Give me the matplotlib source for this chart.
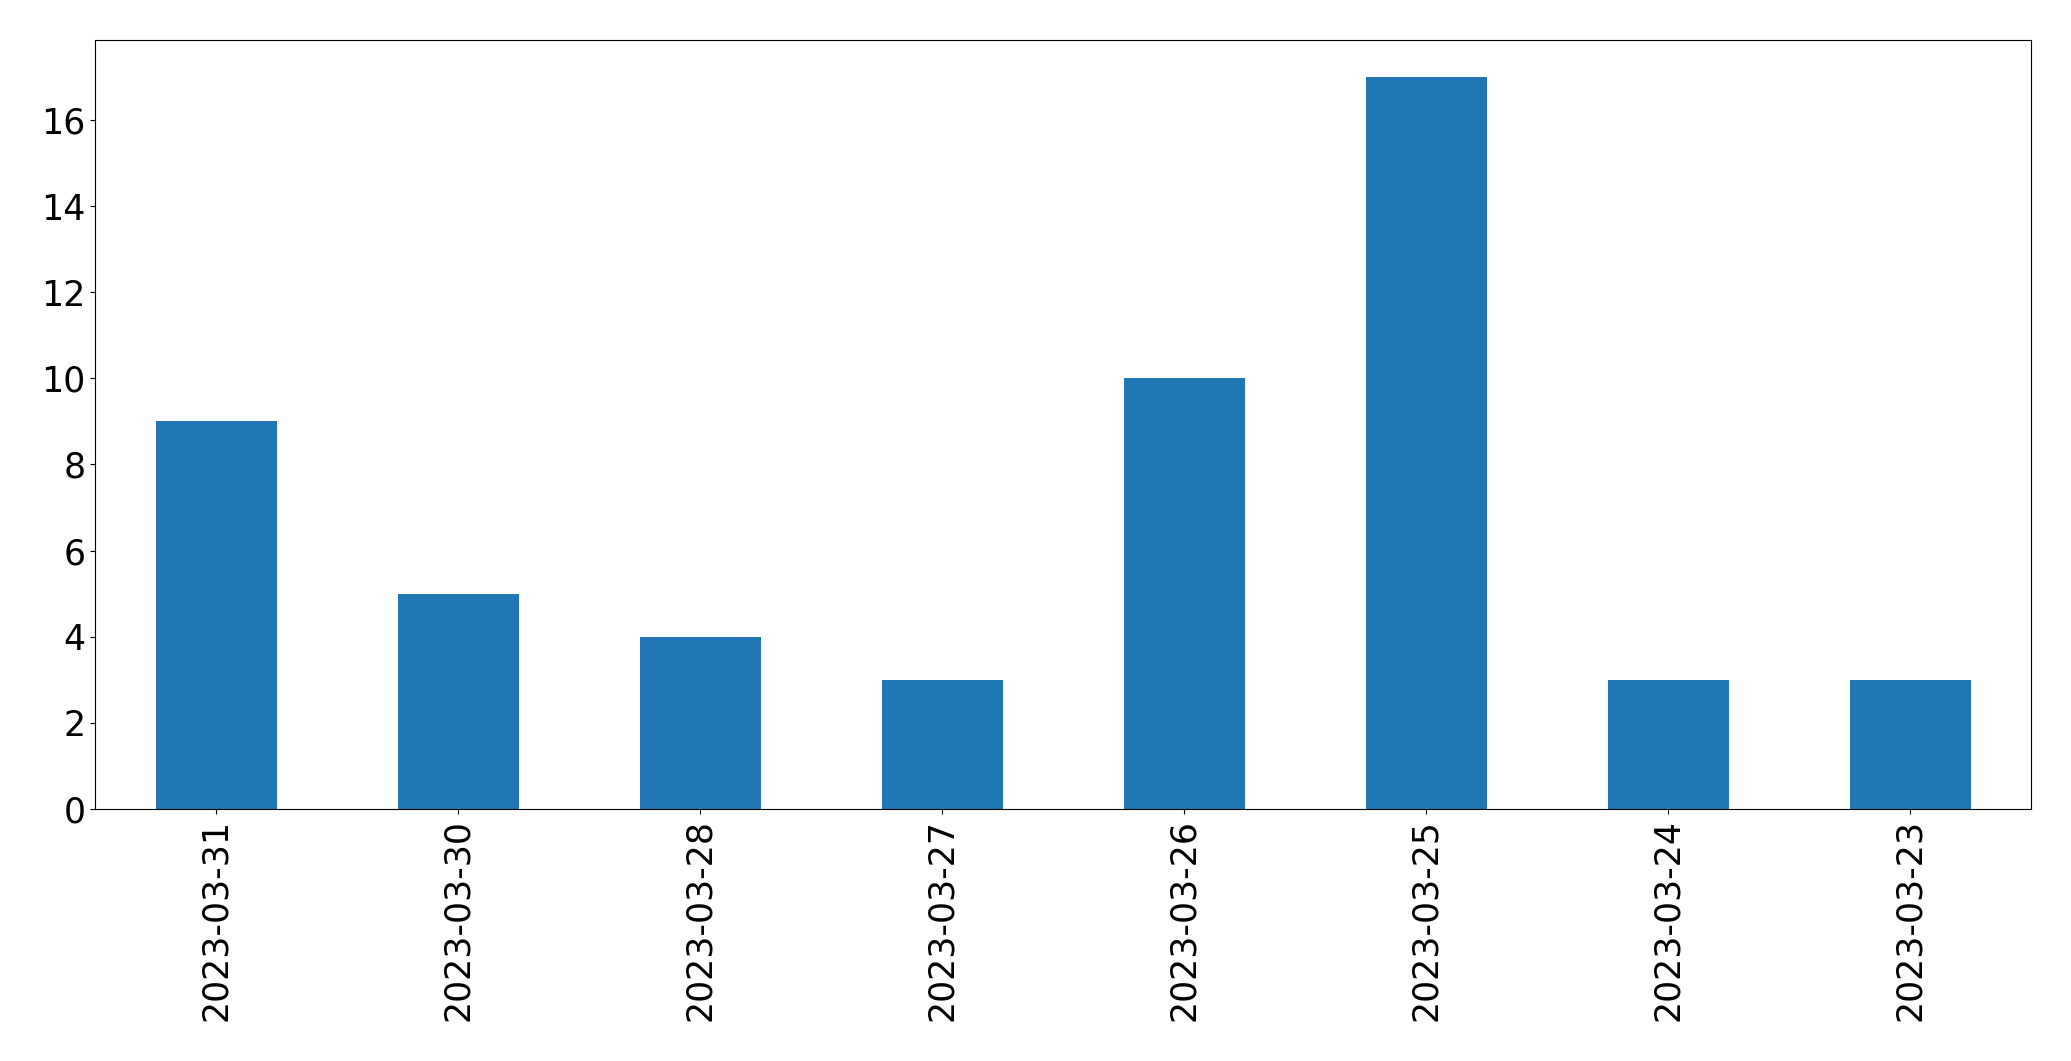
import matplotlib
matplotlib.use("Agg")
import matplotlib.pyplot as plt
import numpy as np

# dates and counts
dates = ["2023-03-31", "2023-03-30", "2023-03-28", "2023-03-27",
         "2023-03-26", "2023-03-25", "2023-03-24", "2023-03-23"]
counts = [9, 5, 4, 3, 10, 17, 3, 3]

fig = plt.figure(figsize=(20.71, 10.61), dpi=100)
ax = fig.add_axes([0.0459, 0.2375, 0.935, 0.7245])

x = np.arange(len(dates))
ax.bar(x, counts, width=0.5, color="#1f77b4")
ax.set_xlim(-0.5, len(dates) - 0.5)
ax.set_ylim(0, max(counts) * 1.05)
ax.set_xticks(x)
ax.set_xticklabels(dates, rotation=90)
ax.tick_params(labelsize=25)

fig.savefig("out.png", dpi=100)
